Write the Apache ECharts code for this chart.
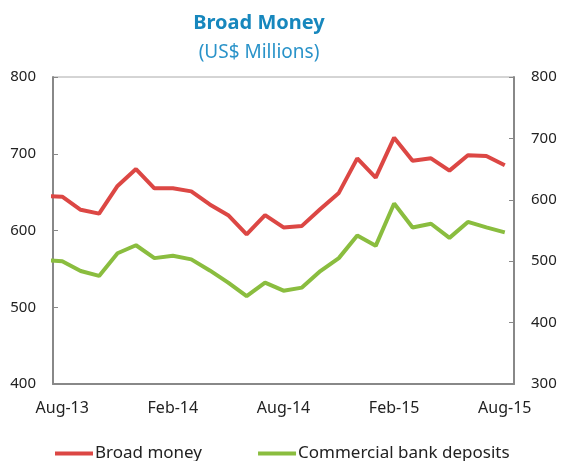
<!DOCTYPE html>
<html>
<head>
<meta charset="utf-8">
<script src="https://cdn.jsdelivr.net/npm/echarts@6/dist/echarts.min.js"></script>
<style>
  html, body { margin: 0; padding: 0; background: #fff; }
  #chart { width: 561px; height: 461px; }
</style>
</head>
<body>
<div id="chart"></div>
<script>
// months, Jul-13 is only there so the line runs out to the left edge (clipped)
var months = ['Jul-13', 'Aug-13', 'Sep-13', 'Oct-13', 'Nov-13', 'Dec-13', 'Jan-14', 'Feb-14', 'Mar-14',
  'Apr-14', 'May-14', 'Jun-14', 'Jul-14', 'Aug-14', 'Sep-14', 'Oct-14', 'Nov-14', 'Dec-14',
  'Jan-15', 'Feb-15', 'Mar-15', 'Apr-15', 'May-15', 'Jun-15', 'Jul-15', 'Aug-15'];
var broadMoney = [645, 644, 627, 622, 658, 680, 655, 655, 651, 634, 620, 595, 620, 604,
  606, 628, 649, 694, 669, 721, 691, 694, 678, 698, 697, 685]; // left axis
var bankDeposits = [502, 500, 484, 476, 513, 526, 505, 509, 503, 485, 465, 443, 465, 452,
  457, 484, 505, 542, 525, 594, 555, 561, 538, 564, 555, 547]; // right axis
var leftTicks = [400, 500, 600, 700, 800];
var rightTicks = [300, 400, 500, 600, 700, 800];

var font = "'Noto Sans', sans-serif";
var chart = echarts.init(document.getElementById('chart'));

// every 6th month starting at Aug-13
function everySixth(idx) {
  return idx >= 1 && (idx - 1) % 6 === 0;
}

var option = {
  animation: false,
  title: [{
    text: 'Broad Money',
    left: 254,
    top: 8,
    textAlign: 'center',
    textStyle: { color: '#1787bd', fontSize: 20, fontWeight: 'bold', fontFamily: font }
  }, {
    text: '(US$ Millions)',
    left: 254,
    top: 38,
    textAlign: 'center',
    textStyle: { color: '#2a93c9', fontSize: 19, fontWeight: 'normal', fontFamily: font }
  }],
  grid: {
    left: 53,
    right: 47,
    top: 77,
    bottom: 77,
    show: true,
    borderColor: '#aaa',
    borderWidth: 1
  },
  legend: {
    left: 50,
    top: 440,
    itemWidth: 38,
    itemHeight: 4,
    itemGap: 56,
    icon: 'rect',
    textStyle: { color: '#222', fontSize: 17, fontFamily: font, padding: [0, 0, 0, -3] },
    data: ['Broad money', 'Commercial bank deposits']
  },
  xAxis: {
    type: 'category',
    data: months,
    boundaryGap: true,
    min: 1,
    max: 25,
    axisLine: { lineStyle: { color: '#888', width: 2 } },
    axisTick: { inside: true, interval: everySixth, length: 6, lineStyle: { color: '#888' } },
    axisLabel: { interval: everySixth, color: '#222', fontSize: 16, fontFamily: font, margin: 16 }
  },
  yAxis: [{
    type: 'value',
    min: leftTicks[0],
    max: leftTicks[leftTicks.length - 1],
    interval: 100,
    position: 'left',
    axisLine: { show: true, lineStyle: { color: '#888', width: 2 } },
    axisTick: { show: true, inside: true, length: 5, lineStyle: { color: '#888' } },
    splitLine: { show: false },
    axisLabel: { color: '#222', fontSize: 15, fontFamily: font, margin: 17 }
  }, {
    type: 'value',
    min: rightTicks[0],
    max: rightTicks[rightTicks.length - 1],
    interval: 100,
    position: 'right',
    axisLine: { show: true, lineStyle: { color: '#888', width: 2 } },
    axisTick: { show: true, inside: true, length: 5, lineStyle: { color: '#888' } },
    splitLine: { show: false },
    axisLabel: { color: '#222', fontSize: 15, fontFamily: font, margin: 17 }
  }],
  series: [{
    name: 'Broad money',
    type: 'line',
    yAxisIndex: 0,
    data: broadMoney,
    symbol: 'none',
    clip: true,
    color: '#dc4744',
    lineStyle: { width: 4, color: '#dc4744' }
  }, {
    name: 'Commercial bank deposits',
    type: 'line',
    yAxisIndex: 1,
    data: bankDeposits,
    symbol: 'none',
    clip: true,
    color: '#8abd3f',
    lineStyle: { width: 4, color: '#8abd3f' }
  }]
};
chart.setOption(option);
</script>
</body>
</html>
